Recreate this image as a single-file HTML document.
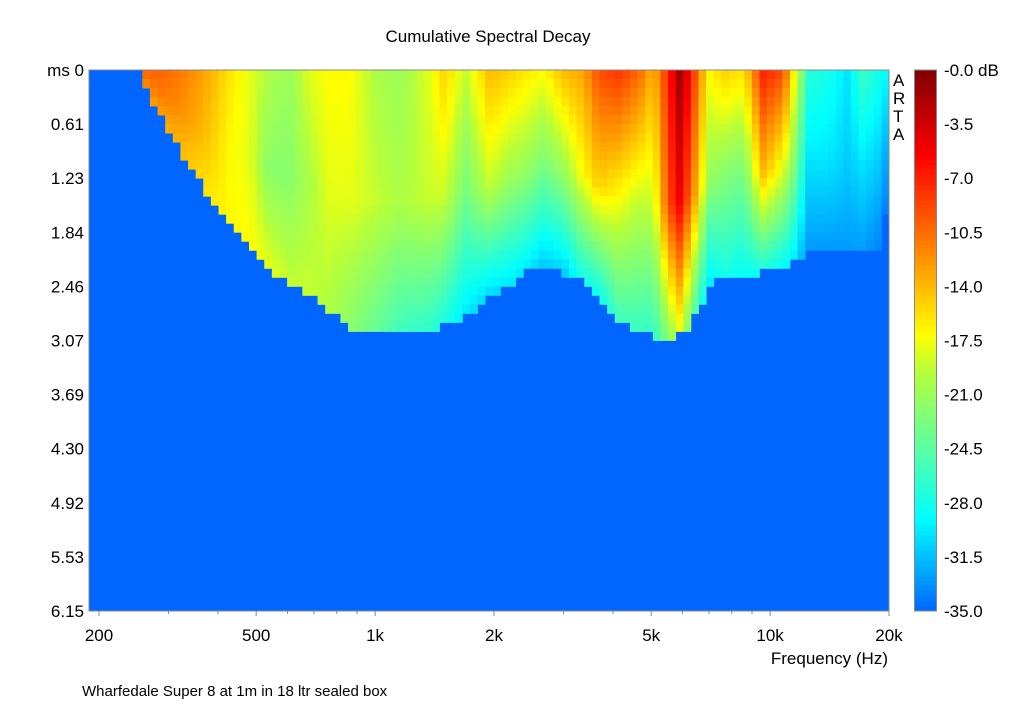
<!DOCTYPE html>
<html><head><meta charset="utf-8"><style>
body{margin:0;background:#fff;width:1024px;height:705px;overflow:hidden;font-family:"Liberation Sans",Arial,sans-serif}
svg text{font-family:"Liberation Sans",Arial,sans-serif;fill:#000}
</style></head><body>
<svg id="chart" width="1024" height="705" viewBox="0 0 1024 705" xmlns="http://www.w3.org/2000/svg">
<text x="488" y="42" font-size="17" text-anchor="middle">Cumulative Spectral Decay</text>
<g id="cells"></g>
<rect x="89" y="70" width="800" height="541" fill="none" stroke="#888" stroke-width="1"/>
<g id="yticks"></g>
<g id="xticks"></g>
<text x="888" y="664" font-size="17" text-anchor="end">Frequency (Hz)</text>
<g font-size="17">
<text x="893" y="86">A</text><text x="893" y="104">R</text><text x="893" y="122">T</text><text x="893" y="140">A</text>
</g>
<g id="cbar"></g>
<text x="82" y="696" font-size="15">Wharfedale Super 8 at 1m in 18 ltr sealed box</text>
</svg>
<script>
// anchor frequencies (Hz) and decay profile values (dB)
const freqs = [190,255,256,285,321,370,429,482,540,608,685,768,865,999,1153,1377,1503,1692,1954,2194,2388,2675,3003,3371,3679,4133,4641,5065,5530,5931,6396,6986,7628,8564,9615,10795,11441,12499,14033,15755,17205,18790,19800,21000];
const level0 = [-35,-35,-10,-10,-11,-13,-16,-18,-20,-21,-18,-17,-17,-20,-21,-18,-15,-19,-14,-15,-16,-17,-14,-13,-9,-8,-10,-14,-7,-1,-8,-17,-15,-16,-7,-9,-16,-27,-28,-30,-26,-28,-29,-29];
const levelMid = [-35,-35,-11,-11,-12,-14,-17,-18,-22,-22,-20,-18,-18,-19,-20,-19,-19,-23,-19,-21,-21,-23,-21,-17,-15,-17,-19,-19,-9,-5,-12,-21,-22,-23,-14,-18,-22,-30,-30,-31,-30,-31,-32,-32];
const levelEnd = [-35,-35,-12,-13,-14,-16,-17,-17,-18,-19,-19,-20,-22,-24,-26,-27,-28,-30,-31,-30,-30,-31,-31,-28,-29,-26,-26,-27,-22,-18,-25,-30,-28,-29,-28,-29,-30,-33,-33,-33,-33,-34,-34,-34];
const decayEnd = [0,0,0.1,0.5,0.9,1.36,1.77,2.05,2.25,2.44,2.56,2.73,2.96,3.0,3.0,3.0,2.9,2.8,2.6,2.45,2.3,2.2,2.3,2.4,2.6,2.85,2.95,3.05,3.05,3.0,2.85,2.45,2.35,2.35,2.3,2.25,2.2,2.05,2.05,2.05,2.1,2.1,1.5,1.5];
const yTickLabels = ["ms 0","0.61","1.23","1.84","2.46","3.07","3.69","4.30","4.92","5.53","6.15"];
const xTickFreqs = [200,500,1000,2000,5000,10000,20000];
const xTickLabels = ["200","500","1k","2k","5k","10k","20k"];
const cbarLabels = ["-0.0 dB","-3.5","-7.0","-10.5","-14.0","-17.5","-21.0","-24.5","-28.0","-31.5","-35.0"];

const NS="http://www.w3.org/2000/svg";
const X0=89,X1=889,Y0=70,Y1=611,TMAX=6.15,VMIN=-35,VMAX=0;
const fx=f=>99+Math.log10(f/200)*395;
const xf=x=>200*Math.pow(10,(x-99)/395);
const ty=t=>Y0+t/TMAX*(Y1-Y0);
function jet(v){
  const s=[[0,0,102,255],[0.17,0,255,255],[0.33,110,255,140],[0.44,180,255,60],[0.51,255,255,0],[0.62,255,170,0],[0.73,255,85,0],[0.84,255,0,0],[1,128,0,0]];
  let t=Math.max(0,Math.min(1,(v-VMIN)/(VMAX-VMIN)));
  for(let i=1;i<s.length;i++){if(t<=s[i][0]){const a=s[i-1],b=s[i],u=(t-a[0])/(b[0]-a[0]);
    return `rgb(${Math.round(a[1]+(b[1]-a[1])*u)},${Math.round(a[2]+(b[2]-a[2])*u)},${Math.round(a[3]+(b[3]-a[3])*u)})`;}}
  return "rgb(128,0,0)";
}
function interp(arr,f){
  const lf=Math.log10(f);
  for(let i=1;i<freqs.length;i++){if(f<=freqs[i]){const a=Math.log10(freqs[i-1]),b=Math.log10(freqs[i]);const u=(lf-a)/(b-a);return arr[i-1]+(arr[i]-arr[i-1])*u;}}
  return arr[arr.length-1];
}
const cells=document.getElementById('cells');
const bg=document.createElementNS(NS,'rect');


bg.setAttribute('x',X0);bg.setAttribute('y',Y0);bg.setAttribute('width',X1-X0);bg.setAttribute('height',Y1-Y0);bg.setAttribute('fill',jet(VMIN));
cells.appendChild(bg);
const NC=105,NR=60,dt=TMAX/NR,cw=(X1-X0)/NC;
for(let c=0;c<NC;c++){
  const xc=X0+(c+0.5)*cw,f=xf(xc);
  const te=interp(decayEnd,f),v0=interp(level0,f),vm=interp(levelMid,f),ve=interp(levelEnd,f);
  for(let r=0;r<NR;r++){
    const t=(r+0.5)*dt; if(t>te) break;
    let v; const h=te/2;
    v = t<h ? v0+(vm-v0)*t/h : vm+(ve-vm)*(t-h)/h;
    if(v<=VMIN+0.5) continue;
    const el=document.createElementNS(NS,'rect');
    
    
    el.setAttribute('x',(X0+c*cw).toFixed(2));el.setAttribute('y',ty(r*dt).toFixed(2));
    el.setAttribute('width',(cw+0.4).toFixed(2));el.setAttribute('height',(ty(dt)-Y0+0.4).toFixed(2));
    el.setAttribute('fill',jet(v));cells.appendChild(el);
  }
}
const yt=document.getElementById('yticks');
yTickLabels.forEach((l,i)=>{
  const el=document.createElementNS(NS,'text');
  
  
  el.setAttribute('x',84);el.setAttribute('y',ty(i*TMAX/10)+6);el.setAttribute('font-size','17');el.setAttribute('text-anchor','end');
  el.textContent=l;yt.appendChild(el);
});
const xt=document.getElementById('xticks');
for(let d=100;d<=20000;d*=10){for(let k=1;k<10;k++){const f=d*k;if(f<200||f>20000)continue;
  const tk=document.createElementNS(NS,'line');
  
  
  const x=fx(f);tk.setAttribute('x1',x);tk.setAttribute('x2',x);tk.setAttribute('y1',611);tk.setAttribute('y2',k===1||k===2||k===5?616:614);tk.setAttribute('stroke','#888');xt.appendChild(tk);}}
xTickFreqs.forEach((f,i)=>{
  const el=document.createElementNS(NS,'text');
  
  
  el.setAttribute('x',fx(f));el.setAttribute('y',641);el.setAttribute('font-size','17');el.setAttribute('text-anchor','middle');
  el.textContent=xTickLabels[i];xt.appendChild(el);
});
const cb=document.getElementById('cbar');
for(let i=0;i<108;i++){
  const el=document.createElementNS(NS,'rect');
  
  
  const y=Y0+i*(Y1-Y0)/108;el.setAttribute('x',915);el.setAttribute('y',y.toFixed(2));el.setAttribute('width',21);el.setAttribute('height',((Y1-Y0)/108+0.5).toFixed(2));
  el.setAttribute('fill',jet(VMAX-(i+0.5)/108*(VMAX-VMIN)));cb.appendChild(el);
}
const fr=document.createElementNS(NS,'rect');


fr.setAttribute('x',914.5);fr.setAttribute('y',Y0);fr.setAttribute('width',22);fr.setAttribute('height',Y1-Y0);fr.setAttribute('fill','none');fr.setAttribute('stroke','#888');cb.appendChild(fr);
cbarLabels.forEach((l,i)=>{
  const el=document.createElementNS(NS,'text');
  
  
  el.setAttribute('x',944);el.setAttribute('y',Y0+i*(Y1-Y0)/10+6);el.setAttribute('font-size','17');
  el.textContent=l;cb.appendChild(el);
});
</script>
</body></html>
